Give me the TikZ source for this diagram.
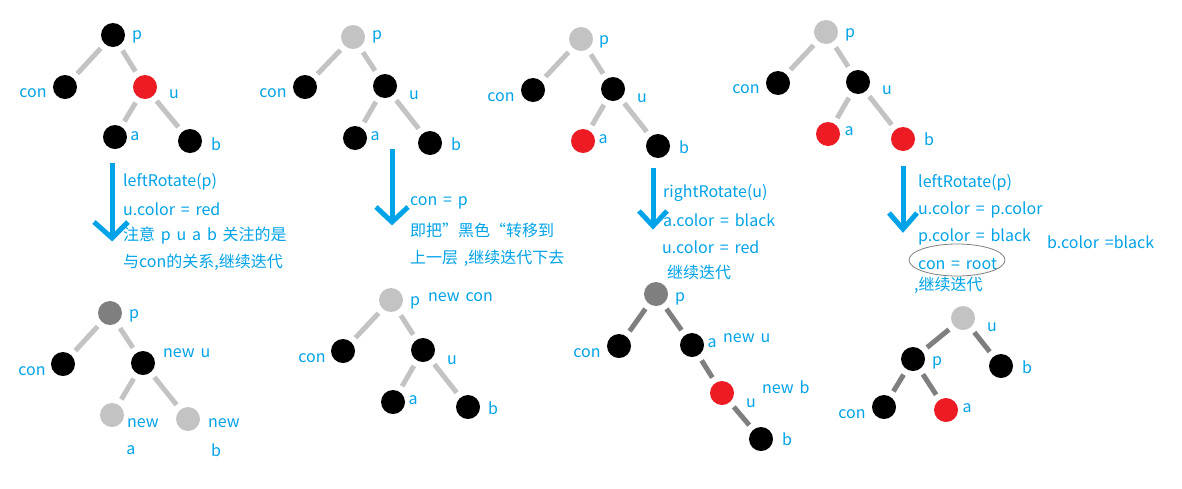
\documentclass[tikz,border=0pt]{standalone}
\usepackage{fontspec}
\setmainfont{Noto Sans CJK SC}
\definecolor{tblue}{HTML}{00A2E8}
\definecolor{nred}{HTML}{ED1C24}
\definecolor{lgray}{HTML}{C3C3C3}
\definecolor{dgray}{HTML}{7F7F7F}
\newcommand\lblfont{\fontsize{16}{18}\selectfont\spaceskip=5.8pt plus 1pt\relax}
\begin{document}
\begin{tikzpicture}[x=1pt,y=-1pt,
  nd/.style={circle,minimum size=24pt,inner sep=0pt},
  bnode/.style={nd,fill=black},
  rnode/.style={nd,fill=nred},
  gnode/.style={nd,fill=lgray},
  dnode/.style={nd,fill=dgray},
  lbl/.style={text=tblue,font=\lblfont,inner sep=0pt},
  txt/.style={lbl,anchor=west},
  ed/.style={draw=lgray,line width=5pt,shorten <=6pt,shorten >=6pt},
  edd/.style={ed,draw=dgray},
  arrline/.style={draw=tblue,line width=5pt},
  arrhead/.style={draw=tblue,line width=5pt,line join=miter}]
\useasboundingbox (0,0) rectangle (1182,488);

% ---------- top panel 1 ----------
\node[bnode] (p1) at (113,35) {};
\node[bnode] (c1) at (65,87) {};
\node[rnode] (u1) at (145,87) {};
\node[bnode] (a1) at (115,137) {};
\node[bnode] (b1) at (190,141) {};
\draw[ed] (p1) -- (c1); \draw[ed] (p1) -- (u1);
\draw[ed] (u1) -- (a1); \draw[ed] (u1) -- (b1);
\node[lbl] (lp1) at (137,37) {p};
\node[lbl] (lc1) at (33,93) {con};
\node[lbl] (lu1) at (174,94) {u};
\node[lbl] (la1) at (135,136) {a};
\node[lbl] (lb1) at (216,144) {b};

% ---------- top panel 2 ----------
\node[gnode] (p2) at (353,37) {};
\node[bnode] (c2) at (305,87) {};
\node[bnode] (u2) at (385,86) {};
\node[bnode] (a2) at (355,138) {};
\node[bnode] (b2) at (430,143) {};
\draw[ed] (p2) -- (c2); \draw[ed] (p2) -- (u2);
\draw[ed] (u2) -- (a2); \draw[ed] (u2) -- (b2);
\node[lbl] (lp2) at (377,37) {p};
\node[lbl] (lc2) at (273,93) {con};
\node[lbl] (lu2) at (414,95) {u};
\node[lbl] (la2) at (375,136) {a};
\node[lbl] (lb2) at (456,144) {b};

% ---------- top panel 3 ----------
\node[gnode] (p3) at (581,39) {};
\node[bnode] (c3) at (533,90) {};
\node[bnode] (u3) at (613,89) {};
\node[rnode] (a3) at (583,141) {};
\node[bnode] (b3) at (658,146) {};
\draw[ed] (p3) -- (c3); \draw[ed] (p3) -- (u3);
\draw[ed] (u3) -- (a3); \draw[ed] (u3) -- (b3);
\node[lbl] (lp3) at (604,42) {p};
\node[lbl] (lc3) at (501,97) {con};
\node[lbl] (lu3) at (642,98) {u};
\node[lbl] (la3) at (603,139) {a};
\node[lbl] (lb3) at (684,147) {b};

% ---------- top panel 4 ----------
\node[gnode] (p4) at (826,32) {};
\node[bnode] (c4) at (778,83) {};
\node[bnode] (u4) at (858,82) {};
\node[rnode] (a4) at (828,134) {};
\node[rnode] (b4) at (903,139) {};
\draw[ed] (p4) -- (c4); \draw[ed] (p4) -- (u4);
\draw[ed] (u4) -- (a4); \draw[ed] (u4) -- (b4);
\node[lbl] (lp4) at (850,35) {p};
\node[lbl] (lc4) at (746,89) {con};
\node[lbl] (lu4) at (887,90) {u};
\node[lbl] (la4) at (849,131) {a};
\node[lbl] (lb4) at (929,139) {b};

% ---------- arrows ----------
\coordinate (s1) at (112,163); \coordinate (t1) at (112,238);
\draw[arrline] (s1) -- (t1);
\draw[arrhead] (94,222) -- (t1) -- (128,222);
\coordinate (s2) at (392,149); \coordinate (t2) at (392,222);
\draw[arrline] (s2) -- (t2);
\draw[arrhead] (376,207) -- (t2) -- (408,207);
\coordinate (s3) at (653,168); \coordinate (t3) at (653,226);
\draw[arrline] (s3) -- (t3);
\draw[arrhead] (639,211) -- (t3) -- (667,211);
\coordinate (s4) at (903,166); \coordinate (t4) at (903,229);
\draw[arrline] (s4) -- (t4);
\draw[arrhead] (889,213) -- (t4) -- (917,213);

% ---------- texts ----------
\node[txt] (t1a) at (123,182) {leftRotate(p)};
\node[txt] (t1b) at (123,209) {u.color = red};
\node[txt] (t1c) at (123,236) {注意 p u a b 关注的是};
\node[txt] (t1d) at (123,262) {与con的关系,继续迭代};

\node[txt] (t2a) at (410,203) {con = p};
\node[txt] (t2b) at (410,230) {即把”黑色“转移到};
\node[txt] (t2c) at (410,258) {上一层 ,继续迭代下去};

\node[txt] (t3a) at (663,193) {rightRotate(u)};
\node[txt] (t3b) at (663,220) {a.color = black};
\node[txt] (t3c) at (662,247) {u.color = red};
\node[txt] (t3d) at (667,272) {继续迭代};

\node[txt] (t4a) at (918,183) {leftRotate(p)};
\node[txt] (t4b) at (918,210) {u.color = p.color};
\node[txt] (t4c) at (918,237) {p.color = black};
\node[txt] (t4e) at (1047,242) {b.color =black};
\node[txt] (t4d) at (918,264) {con = root};
\node[txt] (t4f) at (914,285) {,继续迭代};
\draw[dgray,line width=0.8pt] (957,260) ellipse [x radius=48, y radius=16];

% ---------- bottom panel 1 ----------
\node[dnode] (P1) at (110,313) {};
\node[bnode] (C1) at (63,364) {};
\node[bnode] (U1) at (143,363) {};
\node[gnode] (A1) at (112,415) {};
\node[gnode] (B1) at (188,419) {};
\draw[ed] (P1) -- (C1); \draw[ed] (P1) -- (U1);
\draw[ed] (U1) -- (A1); \draw[ed] (U1) -- (B1);
\node[lbl] (LP1) at (134,316) {p};
\node[lbl] (LC1) at (32,371) {con};
\node[txt] (LU1) at (163,353) {new u};
\node[txt] (LA1) at (127,423) {new};
\node[lbl] (LA1b) at (131,450) {a};
\node[txt] (LB1) at (208,423) {new};
\node[lbl] (LB1b) at (216,450) {b};

% ---------- bottom panel 2 ----------
\node[gnode] (P2) at (391,300) {};
\node[bnode] (C2) at (343,351) {};
\node[bnode] (U2) at (423,350) {};
\node[bnode] (A2) at (393,402) {};
\node[bnode] (B2) at (468,407) {};
\draw[ed] (P2) -- (C2); \draw[ed] (P2) -- (U2);
\draw[ed] (U2) -- (A2); \draw[ed] (U2) -- (B2);
\node[lbl] (LP2) at (415,303) {p};
\node[txt] (LN2) at (428,297) {new con};
\node[lbl] (LC2) at (312,358) {con};
\node[lbl] (LU2) at (452,360) {u};
\node[lbl] (LA2) at (413,400) {a};
\node[lbl] (LB2) at (493,408) {b};

% ---------- bottom panel 3 ----------
\node[dnode] (P3) at (656,294) {};
\node[bnode] (C3) at (619,346) {};
\node[bnode] (A3) at (692,345) {};
\node[rnode] (U3) at (722,393) {};
\node[bnode] (B3) at (761,439) {};
\draw[edd] (P3) -- (C3); \draw[edd] (P3) -- (A3);
\draw[edd] (A3) -- (U3); \draw[edd] (U3) -- (B3);
\node[lbl] (LP3) at (680,299) {p};
\node[lbl] (LC3) at (587,353) {con};
\node[lbl] (LA3) at (712,343) {a};
\node[txt] (LNU3) at (723,338) {new u};
\node[txt] (LNB3) at (762,387) {new b};
\node[lbl] (LU3) at (751,403) {u};
\node[lbl] (LB3) at (787,439) {b};

% ---------- bottom panel 4 ----------
\node[gnode] (U4) at (963,318) {};
\node[bnode] (P4) at (913,359) {};
\node[bnode] (B4) at (1001,366) {};
\node[bnode] (C4) at (884,407) {};
\node[rnode] (A4) at (946,410) {};
\draw[edd] (U4) -- (P4); \draw[edd] (U4) -- (B4);
\draw[edd] (P4) -- (C4); \draw[edd] (P4) -- (A4);
\node[lbl] (LU4) at (992,327) {u};
\node[lbl] (LP4) at (937,363) {p};
\node[lbl] (LB4) at (1027,367) {b};
\node[lbl] (LC4) at (852,414) {con};
\node[lbl] (LA4) at (967,408) {a};
\end{tikzpicture}
\end{document}
